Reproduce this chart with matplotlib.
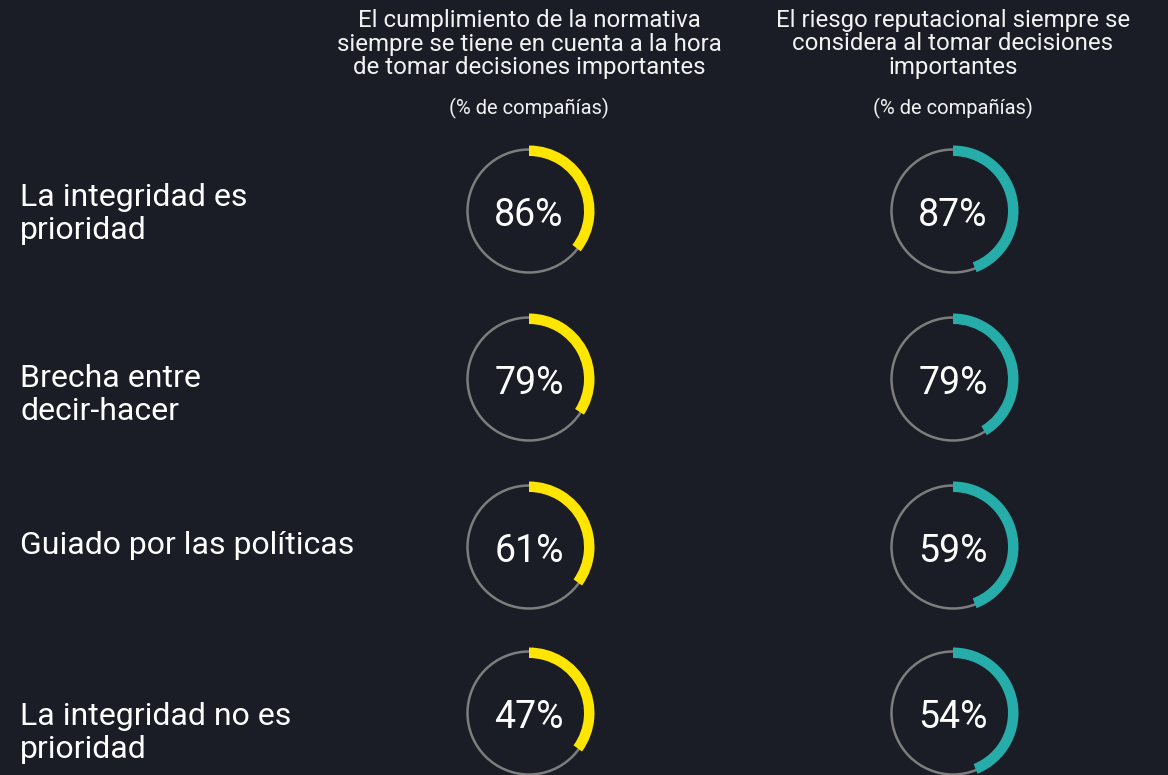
import matplotlib.pyplot as plt
from matplotlib.patches import Circle, Wedge

# data
row_labels = ['La integridad es\nprioridad', 'Brecha entre\ndecir-hacer',
              'Guiado por las políticas', 'La integridad no es\nprioridad']
headers = ['El cumplimiento de la normativa\nsiempre se tiene en cuenta a la hora\nde tomar decisiones importantes',
           'El riesgo reputacional siempre se\nconsidera al tomar decisiones\nimportantes']
subtitle = '(% de compañías)'
compliance_pct = [86, 79, 61, 47]
reputation_pct = [87, 79, 59, 54]
# arc lengths as drawn (degrees clockwise from the top)
compliance_arc = [128, 123, 126, 126]
reputation_arc = [159, 149, 159, 158]

bg = '#1a1d26'
yellow = '#ffe600'
teal = '#26aca9'
ring = '#7d7d7d'

W, H = 1168, 775
fig = plt.figure(figsize=(W / 100, H / 100), dpi=100, facecolor=bg)
ax = fig.add_axes([0, 0, 1, 1])
ax.set_xlim(0, W)
ax.set_ylim(H, 0)
ax.set_aspect('equal')
ax.axis('off')
ax.set_facecolor(bg)

font = ['Roboto', 'DejaVu Sans']
col_x = [529, 953]
row_y = [211, 379, 547, 713]
label_y = [214, 395, 545, 733]
r_ring = 61.5

for cx, head in zip(col_x, headers):
    ax.text(cx, 44, head, ha='center', va='center', color='#f2f2f2', fontsize=17.3,
            family=font, linespacing=1.04)
    ax.text(cx, 108, subtitle, ha='center', va='center', color='#f2f2f2', fontsize=14.5,
            family=font)

for lab, ly in zip(row_labels, label_y):
    ax.text(20, ly, lab, ha='left', va='center', color='white', fontsize=23,
            family=font, linespacing=1.2)

for cx, vals, arcs, col in [(col_x[0], compliance_pct, compliance_arc, yellow),
                            (col_x[1], reputation_pct, reputation_arc, teal)]:
    for cy, v, a in zip(row_y, vals, arcs):
        ax.add_patch(Circle((cx, cy), r_ring, fill=False, edgecolor=ring, linewidth=1.8))
        ax.add_patch(Wedge((cx, cy), 65.5, -90, -90 + a, width=10.5, facecolor=col,
                           edgecolor='none'))
        ax.text(cx, cy + 5, f'{v}%', ha='center', va='center', color='white',
                fontsize=27, family=font)

fig.savefig('out.png', dpi=100, facecolor=bg)
